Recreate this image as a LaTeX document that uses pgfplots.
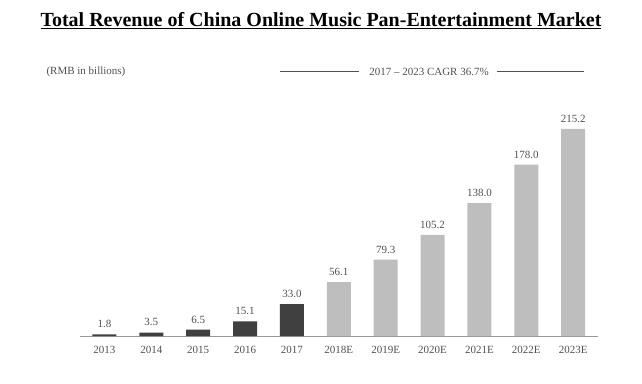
\documentclass[border=0pt]{standalone}
\usepackage{pgfplots}
\pgfplotsset{compat=1.18}
\usepackage{fontspec}
\setmainfont{Liberation Serif}
\definecolor{darkbar}{HTML}{404040}
\definecolor{lightbar}{HTML}{BEBEBE}
\definecolor{txt}{HTML}{505050}
\begin{document}
\begin{tikzpicture}[x=1pt,y=1pt]
\path[use as bounding box] (0,0) rectangle (642,383);
\node[font=\fontsize{20}{24}\selectfont\bfseries] at (321,362) {\underline{Total Revenue of China Online Music Pan-Entertainment Market}};
\node[font=\fontsize{11}{13}\selectfont, text=txt, anchor=west] at (43,311) {(RMB in billions)};
\node[font=\fontsize{11}{13}\selectfont, text=txt] (c) at (429,311) {2017 -- 2023 CAGR 36.7\%};
\draw[txt, line width=0.5pt] (280,311.5) -- (359,311.5);
\draw[txt, line width=0.5pt] (497,311.5) -- (584,311.5);
\begin{axis}[
  at={(80pt,47pt)}, anchor=south west,
  scale only axis, width=518pt, height=221.3pt,
  xmin=-0.52, xmax=10.53, ymin=0, ymax=230,
  axis x line=bottom, axis y line=none, clip=false,
  x axis line style={draw=lightbar!80!black, line width=0.6pt, -},
  ybar, bar width=24pt,
  xtick={0,1,2,3,4,5,6,7,8,9,10},
  xticklabels={2013,2014,2015,2016,2017,2018E,2019E,2020E,2021E,2022E,2023E},
  major tick length=0pt,
  xticklabel style={font=\fontsize{11}{13}\selectfont, text=txt, yshift=-6.5pt},
  ytick=\empty,
  nodes near coords,
  nodes near coords style={font=\fontsize{11}{13}\selectfont, text=txt, yshift=3pt},
  /pgf/number format/.cd, fixed, fixed zerofill, precision=1, assume math mode=true,
]
\addplot[draw=none, fill=darkbar, bar shift=0pt] coordinates {(0,1.8) (1,3.5) (2,6.5) (3,15.1) (4,33.0)};
\addplot[draw=none, fill=lightbar, bar shift=0pt] coordinates {(5,56.1) (6,79.3) (7,105.2) (8,138.0) (9,178.0) (10,215.2)};
\end{axis}
\end{tikzpicture}
\end{document}
